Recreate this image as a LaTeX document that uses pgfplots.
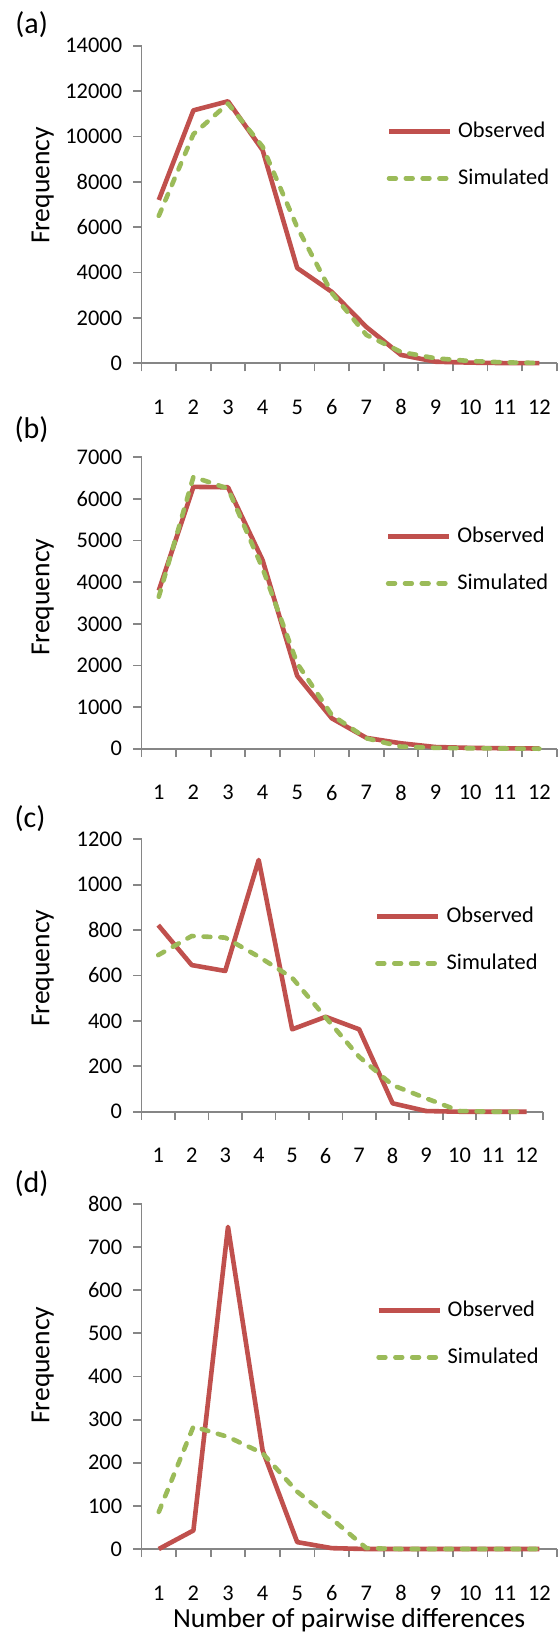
\documentclass[border=0pt]{standalone}
\usepackage{fontspec}
\setmainfont{Carlito}
\usepackage{pgfplots}
\pgfplotsset{compat=1.18}

\definecolor{obsred}{HTML}{C0504D}
\definecolor{simgreen}{HTML}{9BBB59}
\definecolor{axgray}{HTML}{868686}

\newcommand{\titlefont}{\fontsize{13.8}{16}\selectfont}

% common look of the four panels
\pgfplotsset{
  panel/.style={
    scale only axis,
    xmin=0.5, xmax=12.5, ymin=0,
    clip=false,
    axis x line*=bottom, axis y line*=left,
    axis line style={axgray, line width=0.9pt, -},
    tick style={axgray, line width=0.9pt},
    tick align=outside,
    major tick length=4pt,
    xtick={0.5,1.5,...,12.5},
    xticklabels={1,2,3,4,5,6,7,8,9,10,11,12,{}},
    xticklabel style={anchor=center, yshift=-18pt},
    scaled y ticks=false,
    yticklabel style={anchor=east, inner sep=0pt, xshift=-5.5pt},
    /pgf/number format/1000 sep={},
    /pgf/number format/assume math mode=true,
    ylabel={\titlefont Frequency},
    ylabel style={anchor=center},
    legend cell align=left,
    legend image code/.code={\draw[##1] (0pt,0pt) -- (30.5pt,0pt);},
    legend style={draw=none, fill=none, inner sep=0pt, outer sep=0pt,
      nodes={inner sep=0pt}, column sep=2.9pt, row sep=13.9pt, anchor=west},
  },
  obs/.style={obsred, line width=2.3pt, line join=round},
  sim/.style={simgreen, line width=2.3pt, line join=round, line cap=round,
    dash pattern=on 3.4pt off 5pt},
}

\begin{document}
\fontsize{11.2}{13.4}\selectfont
\begin{tikzpicture}
\path[use as bounding box] (0,0) rectangle (278.5pt,-819pt);

% (a)
\begin{axis}[panel, at={(70.75pt,-181.65pt)}, anchor=south west,
  width=207.6pt, height=158.8pt, ymax=14000,
  ytick={0,2000,...,14000},
  xticklabel style={xshift=8.65pt},
  ylabel style={at={(rel axis cs:-0.238,0.56)}},
  legend style={at={(rel axis cs:0.5906,0.656)}}]
\addplot[obs] coordinates {
  (1,7200) (2,11150) (3,11550) (4,9400) (5,4200) (6,3150)
  (7,1600) (8,370) (9,70) (10,30) (11,10) (12,5)};
\addplot[sim] coordinates {
  (1,6500) (2,10100) (3,11450) (4,9550) (5,6000) (6,3100)
  (7,1250) (8,500) (9,220) (10,100) (11,40) (12,15)};
\legend{Observed,Simulated}
\end{axis}

% (b)
\begin{axis}[panel, at={(70.75pt,-374.35pt)}, anchor=south west,
  width=207.6pt, height=145.7pt, ymax=7000,
  ytick={0,1000,...,7000},
  xticklabel style={xshift=8.65pt},
  ylabel style={at={(rel axis cs:-0.238,0.52)}},
  legend style={at={(rel axis cs:0.5886,0.6476)}}]
\addplot[obs] coordinates {
  (1,3800) (2,6290) (3,6280) (4,4530) (5,1750) (6,730)
  (7,260) (8,130) (9,40) (10,20) (11,10) (12,5)};
\addplot[sim] coordinates {
  (1,3650) (2,6530) (3,6250) (4,4330) (5,2050) (6,810)
  (7,250) (8,50) (9,20) (10,10) (11,5) (12,0)};
\legend{Observed,Simulated}
\end{axis}

% (c)
\begin{axis}[panel, at={(70.75pt,-555.85pt)}, anchor=south west,
  width=200.9pt, height=136.2pt, ymax=1200,
  ytick={0,200,...,1200},
  xticklabel style={xshift=8.37pt},
  ylabel style={at={(rel axis cs:-0.2461,0.527)}},
  legend style={at={(rel axis cs:0.5816,0.6303)}}]
\addplot[obs] coordinates {
  (1,822) (2,646) (3,620) (4,1109) (5,363) (6,418)
  (7,363) (8,37) (9,3) (10,0) (11,0) (12,0)};
\addplot[sim] coordinates {
  (1,690) (2,774) (3,767) (4,683) (5,590) (6,415)
  (7,242) (8,117) (9,59) (10,3) (11,0) (12,0)};
\legend{Observed,Simulated}
\end{axis}

% (d)
\begin{axis}[panel, at={(70.75pt,-774.5pt)}, anchor=south west,
  width=207.6pt, height=172.5pt, ymax=800,
  ytick={0,100,...,800},
  xticklabel style={xshift=8.65pt},
  ylabel style={at={(rel axis cs:-0.238,0.533)}},
  xlabel={\titlefont Number of pairwise differences},
  xlabel style={at={(rel axis cs:0.5,0)}, anchor=center, yshift=-35.6pt},
  legend style={at={(rel axis cs:0.5655,0.6236)}}]
\addplot[obs] coordinates {
  (1,0) (2,43) (3,747) (4,229) (5,16) (6,2)
  (7,0) (8,0) (9,0) (10,0) (11,0) (12,0)};
\addplot[sim] coordinates {
  (1,86) (2,284) (3,260) (4,222) (5,133) (6,70)
  (7,2) (8,0) (9,0) (10,0) (11,0) (12,0)};
\legend{Observed,Simulated}
\end{axis}

% panel letters
\begin{scope}[every node/.style={anchor=west, inner sep=0pt, font=\fontsize{15}{18}\selectfont}]
\node at (7.5pt,-12.5pt) {(a)};
\node at (7.1pt,-215pt) {(b)};
\node at (7.1pt,-409.2pt) {(c)};
\node at (7.1pt,-591.7pt) {(d)};
\end{scope}
\end{tikzpicture}
\end{document}
